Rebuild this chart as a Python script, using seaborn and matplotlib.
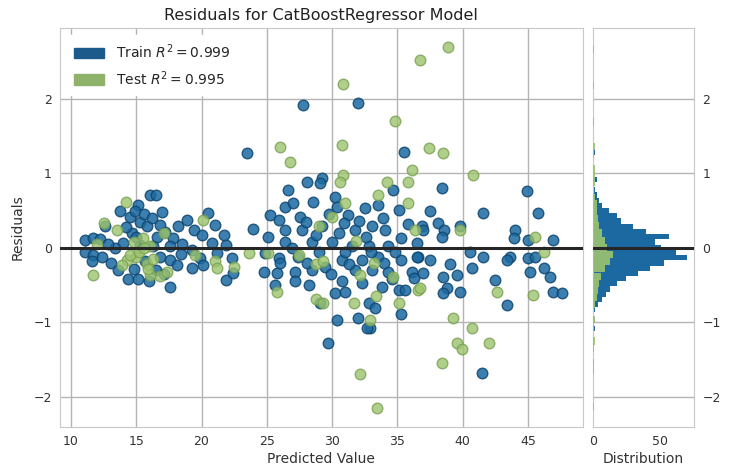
import numpy as np
import pandas as pd
import matplotlib
matplotlib.use("Agg")
import matplotlib.pyplot as plt
import seaborn as sns
from matplotlib.patches import Patch

# ---------------- data ----------------
train_pred = [11.07, 11.7, 12.2, 11.1, 11.7, 12.35, 11.6, 13.75, 14.5, 15.15, 16.05, 16.55, 15.3, 15.8, 16.8,
              14.65, 14.0, 13.4, 15.3, 16.3, 17.8, 18.2, 17.6, 16.8, 17.6, 18.1, 14.4, 15.15, 17.6, 16.55,
              15.7, 19.4, 20.0, 20.5, 21.0, 21.7, 21.9, 19.25, 19.9, 19.25, 20.1, 21.15, 22.3, 21.9, 22.4,
              20.8, 12.8, 13.1, 14.9, 15.6, 16.2, 17.2, 17.0, 14.2, 13.6, 14.8, 16.0, 17.1, 18.5, 18.4,
              12.6, 16.6, 15.0, 18.9,
              27.8, 32.0, 23.5, 35.5, 28.05, 29.2, 29.1, 26.65, 34.7, 30.2, 28.55, 26.4, 25.25, 25.9, 27.55,
              23.95, 32.5, 31.25, 33.55, 35.1, 36.9, 26.4, 27.7, 29.2, 30.5, 31.75, 33.05, 34.05, 35.3, 25.1,
              26.4, 28.45, 30.0, 31.5, 32.8, 34.3, 36.5, 24.85, 25.9, 27.4, 30.75, 32.3, 33.55, 35.3, 36.6,
              24.75, 25.75, 27.15, 28.45, 29.45, 31.75, 33.05, 34.3, 36.1, 25.6, 27.15, 28.2, 30.75, 32.3,
              33.8, 35.1, 35.6, 30.2, 31.0, 29.1, 32.8, 33.3, 35.3, 30.35, 32.0, 32.9, 29.7, 32.65,
              28.0, 29.8, 30.9, 32.1, 33.9, 26.9, 29.0, 31.0, 33.0, 34.8, 28.1, 29.9, 31.3, 34.0, 26.0,
              30.4, 27.0, 35.8, 36.3, 28.8, 32.6, 34.6,
              38.4, 44.9, 41.6, 45.8, 37.5, 38.15, 38.55, 38.4, 39.8, 37.0, 44.0, 43.9, 45.0, 46.95, 40.6,
              41.6, 43.6, 43.4, 45.0, 45.55, 36.5, 37.5, 39.05, 40.7, 37.0, 38.5, 39.55, 45.2, 46.2, 46.7,
              42.5, 38.8, 39.8, 38.5, 46.95, 47.6, 43.4, 41.45]
train_resid = [0.11, 0.13, 0.12, -0.05, -0.09, -0.12, -0.18, 0.49, 0.42, 0.58, 0.71, 0.71, 0.35, 0.29, 0.31,
               0.2, 0.06, 0.0, 0.04, 0.02, 0.13, 0.29, 0.02, -0.12, -0.16, -0.23, -0.41, -0.41, -0.52, -0.30,
               -0.18, 0.24, 0.17, 0.47, 0.31, 0.17, 0.04, -0.03, -0.14, -0.27, -0.23, -0.07, -0.14, -0.43, -0.34,
               0.06, 0.05, -0.2, 0.5, 0.45, 0.4, 0.22, 0.48, 0.28, -0.3, -0.28, -0.45, -0.35, 0.05, -0.08,
               0.3, 0.15, 0.15, 0.38,
               1.92, 1.94, 1.27, 1.29, 0.89, 0.94, 0.87, 0.78, 0.78, 0.69, 0.62, 0.55, 0.44, 0.38, 0.42,
               0.26, 0.53, 0.44, 0.58, 0.51, 0.29, 0.24, 0.24, 0.29, 0.2, 0.24, 0.29, 0.24, 0.13, 0.15,
               0.08, 0.08, 0.08, 0.02, 0.02, 0.02, 0.06, -0.07, -0.14, -0.12, -0.16, -0.16, -0.12, -0.16, -0.12,
               -0.32, -0.34, -0.32, -0.3, -0.25, -0.3, -0.3, -0.32, -0.32, -0.5, -0.45, -0.5, -0.45, -0.47,
               -0.52, -0.56, -0.56, -0.61, -0.59, -0.74, -0.74, -0.81, -0.88, -0.97, -0.94, -1.08, -1.28, -1.08,
               0.35, 0.45, 0.33, 0.36, 0.4, 0.0, -0.05, -0.05, -0.05, -0.05, -0.2, -0.35, -0.22, -0.2, -0.2,
               0.55, 0.6, 0.32, -0.4, 0.18, 0.15, -0.42,
               0.80, 0.76, 0.47, 0.47, 0.49, 0.33, 0.24, 0.15, 0.29, 0.24, 0.24, 0.13, 0.11, 0.11, -0.05,
               -0.12, -0.12, -0.16, -0.14, -0.12, -0.12, -0.16, -0.21, -0.27, -0.34, -0.39, -0.36, -0.32, -0.27, -0.39,
               -0.43, -0.54, -0.59, -0.61, -0.59, -0.61, -0.77, -1.68]

test_pred = [12.5, 11.7, 14.25, 13.5, 15.0, 14.3, 15.8, 16.05, 17.1, 16.8, 13.9, 16.05, 21.0, 21.15, 20.1,
             15.55, 17.35, 14.5, 15.2, 15.6, 16.3, 14.8, 15.9, 12.0, 19.5, 22.5,
             34.8, 26.0, 30.75, 26.8, 36.1, 30.85, 34.2, 35.85, 30.6, 33.55, 35.85, 30.0, 31.0, 29.0, 23.6,
             25.1, 28.8, 29.3, 25.75, 28.8, 29.3, 31.65, 32.15, 34.7, 36.6, 35.1, 32.9, 33.4, 36.35, 32.15,
             33.45, 30.85, 27.5, 31.8, 33.2,
             36.75, 38.9, 37.4, 38.5, 40.8, 39.8, 36.75, 42.6, 45.4, 39.3, 40.7, 39.55, 39.95, 42.0, 38.4,
             45.55, 46.2]
test_resid = [0.33, -0.36, 0.62, 0.24, -0.12, -0.16, -0.21, 0.02, 0.2, -0.38, -0.23, -0.36, -0.18, -0.27, 0.38,
              0.13, -0.32, -0.1, -0.05, 0.0, -0.15, 0.08, -0.28, 0.05, -0.1, -0.25,
              1.70, 1.36, 1.38, 1.16, 1.05, 0.98, 0.89, 0.89, 0.89, 0.71, 0.6, 0.42, 0.6, 0.29, -0.07,
              -0.07, -0.21, -0.18, -0.59, -0.68, -0.74, -0.74, -0.36, -0.39, -0.56, -0.74, -0.97, -0.65, 0.24, -1.69,
              -2.15, 2.2, -0.1, 0.1, -0.2,
              2.52, 2.70, 1.34, 1.27, 0.98, 0.24, -0.54, -0.59, -0.63, -0.94, -1.08, -1.28, -1.35, -1.28, -1.55,
              0.15, -0.05]

# histogram of residuals (bin centres and counts)
train_bins = [1.94, 1.28, 0.92, 0.78, 0.71, 0.64, 0.57, 0.50, 0.43, 0.36, 0.29, 0.22, 0.15, 0.08, 0.01,
              -0.06, -0.13, -0.20, -0.27, -0.34, -0.41, -0.48, -0.55, -0.62, -0.69, -0.76, -0.83, -0.97,
              -1.08, -1.28, -1.68]
train_counts = [1, 2, 3, 2, 3, 5, 7, 12, 18, 21, 30, 40, 57, 46, 51,
                62, 70, 53, 43, 34, 25, 18, 13, 10, 7, 4, 2, 2,
                2, 1, 1]
test_bins = [2.66, 2.18, 1.69, 1.36, 1.26, 1.07, 0.97, 0.88, 0.68, 0.59, 0.49, 0.39, 0.30, 0.20, 0.10,
             0.01, -0.09, -0.18, -0.28, -0.38, -0.47, -0.57, -0.67, -0.76, -0.96, -1.06, -1.25, -1.35,
             -1.54, -1.64, -2.13]
test_counts = [1, 1, 1, 2, 1, 2, 2, 2, 2, 3, 3, 4, 5, 7, 9,
               11, 15, 13, 9, 6, 5, 4, 3, 2, 2, 1, 2, 1,
               1, 1, 1]

train_r2 = 0.999
test_r2 = 0.995
title = "Residuals for CatBoostRegressor Model"
x_ticks = [10, 15, 20, 25, 30, 35, 40, 45]
y_ticks = [-2, -1, 0, 1, 2]
hist_ticks = [0, 50]

# ---------------- style ----------------
sns.set_style("whitegrid", {"grid.color": "#b4b4b4", "axes.edgecolor": "#c8c8c8"})
plt.rcParams["font.family"] = ["DejaVu Sans"]

TRAIN_C = "#1b69a0"
TRAIN_E = "#0e4670"
TEST_C = "#9cc46e"
TEST_E = "#78a052"

fig = plt.figure(figsize=(7.39, 4.70), dpi=100)
ax = fig.add_axes([0.0812, 0.092, 0.7073, 0.848])
hax = fig.add_axes([0.802, 0.092, 0.1375, 0.848])

train_df = pd.DataFrame({"pred": train_pred, "resid": train_resid})
test_df = pd.DataFrame({"pred": test_pred, "resid": test_resid})

sns.scatterplot(data=train_df, x="pred", y="resid", ax=ax, s=58, color=TRAIN_C,
                edgecolor=TRAIN_E, linewidth=1.0, alpha=0.85, zorder=3)
sns.scatterplot(data=test_df, x="pred", y="resid", ax=ax, s=58, color=TEST_C,
                edgecolor=TEST_E, linewidth=1.0, alpha=0.8, zorder=3)
ax.axhline(0, color="#262626", lw=2.2, zorder=5)

ax.set_xlim(9.16, 49.2)
ax.set_ylim(-2.40, 2.95)
ax.set_xticks(x_ticks)
ax.set_yticks(y_ticks)
ax.grid(True, color="#b4b4b4", lw=1.0)
ax.tick_params(axis="both", labelsize=9, length=0, pad=6, colors="#333333")
ax.set_xlabel("Predicted Value", fontsize=10, color="#333333", labelpad=3)
ax.set_ylabel("Residuals", fontsize=10, color="#333333", labelpad=6)
ax.set_title(title, fontsize=11.5, color="#222222", pad=6)
for sp in ax.spines.values():
    sp.set_color("#c8c8c8")

handles = [Patch(facecolor="#1d5a8c", edgecolor="#1d5a8c", label=r"Train $R^2 = %.3f$" % train_r2),
           Patch(facecolor="#8fb26a", edgecolor="#8fb26a", label=r"Test $R^2 = %.3f$" % test_r2)]
leg = ax.legend(handles=handles, loc="upper left", fontsize=10, frameon=True, framealpha=1.0,
                edgecolor="white", handlelength=2.2, handleheight=0.8, borderpad=0.5,
                labelspacing=0.6, bbox_to_anchor=(0.0, 1.0))
leg.set_zorder(10)

# distribution panel
hax.barh(train_bins, train_counts, height=0.072, color=TRAIN_C, linewidth=0, zorder=2)
hax.barh(test_bins, test_counts, height=0.097, color=TEST_C, alpha=0.9, linewidth=0, zorder=3)
hax.axhline(0, color="#262626", lw=2.2, zorder=5)
hax.set_ylim(ax.get_ylim())
hax.set_xlim(0, 75.6)
hax.set_xticks(hist_ticks)
hax.set_yticks(y_ticks)
hax.yaxis.tick_right()
hax.grid(True, axis="y", color="#b4b4b4", lw=1.0)
hax.grid(False, axis="x")
hax.tick_params(axis="both", labelsize=9, length=0, pad=6, colors="#333333")
hax.set_xlabel("Distribution", fontsize=10, color="#333333", labelpad=3)
for sp in hax.spines.values():
    sp.set_color("#c8c8c8")

fig.savefig("out.png", dpi=100)
